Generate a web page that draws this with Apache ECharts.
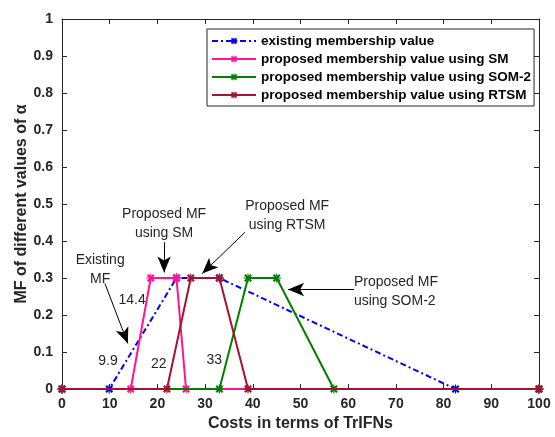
<!DOCTYPE html>
<html><head><meta charset="utf-8">
<script src="https://cdn.jsdelivr.net/npm/echarts@6/dist/echarts.min.js"></script>
<style>html,body{margin:0;padding:0;background:#fff}#c{width:555px;height:437px}</style>
</head><body><div id="c"></div>
<script>
const seriesNames = ['existing membership value','proposed membership value using SM','proposed membership value using SOM-2','proposed membership value using RTSM'];
const existingX = [0, 9.9, 24, 33, 82.5, 100];
const existingY = [0, 0, 0.3, 0.3, 0, 0];
const smX = [0, 14.4, 18.6, 24, 26, 100];
const smY = [0, 0, 0.3, 0.3, 0, 0];
const somX = [0, 33, 39, 45, 57, 100];
const somY = [0, 0, 0.3, 0.3, 0, 0];
const rtsmX = [0, 22, 27, 33, 39, 100];
const rtsmY = [0, 0, 0.3, 0.3, 0, 0];
// annotation texts and their anchor points in data coordinates
const annTexts = ['Existing\nMF','Proposed MF\nusing SM','Proposed MF\nusing RTSM','Proposed MF\nusing SOM-2','14.4','9.9','22','33'];
const annPos = [[8.0,0.323],[21.4,0.448],[47.2,0.469],[61.2,0.264],[14.7,0.24],[9.64,0.075],[20.3,0.067],[31.9,0.077]];
const arrows = [[[9.0,0.285],[13.8,0.123]],[[21.4,0.397],[21.4,0.315]],[[38.4,0.424],[29.4,0.312]],[[61.2,0.269],[47.4,0.269]]];

const colors = ['#0000FF','#FF1493','#007F00','#A2142F'];
const starPath = 'path://M0,4.4H10V5.6H0Z M4.4,0H5.6V10H4.4Z M2.35,0.65L9.35,7.65L7.65,9.35L0.65,2.35Z M9.35,2.35L2.35,9.35L0.65,7.65L7.65,0.65Z M5,2.6A2.4,2.4 0 1 1 4.99,2.6Z';
const pairs = (xs,ys)=>xs.map((x,i)=>[x,ys[i]]);
const dataSets = [pairs(existingX,existingY),pairs(smX,smY),pairs(somX,somY),pairs(rtsmX,rtsmY)];
const font = 'Liberation Sans, Arial, Helvetica, sans-serif';
const txt = '#262626';

const mkSeries = (i)=>({
  name: seriesNames[i], type:'line', data: dataSets[i], z: 2+i,
  symbol: starPath, symbolSize:9, showSymbol:true,
  lineStyle:{color:colors[i], width:2, type: i===0 ? [6,3,2,3] : 'solid'},
  itemStyle:{color:colors[i]}, animation:false
});

const chart = echarts.init(document.getElementById('c'));
const option = {
  animation:false,
  textStyle:{fontFamily:font},
  grid:{left:62,right:16,top:19,bottom:43,show:false},
  legend:{
    data: seriesNames, orient:'vertical', left:207, top:29,
    itemWidth:44, itemHeight:9, itemGap:4,
    padding:[5,3,4,4],
    borderColor:'#262626', borderWidth:1, backgroundColor:'#fff',
    textStyle:{fontFamily:font, fontWeight:'bold', fontSize:13.5, lineHeight:14, color:'#000'}
  },
  xAxis:[{
    type:'value', min:0, max:100, interval:10,
    name:'Costs in terms of TrIFNs', nameLocation:'middle', nameGap:27, nameMoveOverlap:false,
    nameTextStyle:{fontFamily:font, fontWeight:'bold', fontSize:16, color:txt},
    axisLine:{lineStyle:{color:txt,width:1}},
    axisTick:{inside:true, length:5, lineStyle:{color:txt}},
    axisLabel:{fontFamily:font, fontWeight:'bold', fontSize:14, color:txt, margin:8},
    splitLine:{show:false}
  },{
    type:'value', min:0, max:100, interval:10, position:'top',
    axisLine:{onZero:false, lineStyle:{color:txt,width:1}},
    axisTick:{inside:true, length:5, lineStyle:{color:txt}},
    axisLabel:{show:false}, splitLine:{show:false}
  }],
  yAxis:[{
    type:'value', min:0, max:1, interval:0.1,
    name:'MF of different values of α', nameLocation:'middle', nameGap:32, nameMoveOverlap:false,
    nameTextStyle:{fontFamily:font, fontWeight:'bold', fontSize:16, color:txt},
    axisLine:{show:true, lineStyle:{color:txt,width:1}},
    axisTick:{show:true, inside:true, length:5, lineStyle:{color:txt}},
    axisLabel:{fontFamily:font, fontWeight:'bold', fontSize:14, color:txt, margin:9,
      formatter:(v)=>String(Math.round(v*10)/10)},
    splitLine:{show:false}
  },{
    type:'value', min:0, max:1, interval:0.1, position:'right',
    axisLine:{show:true, onZero:false, lineStyle:{color:txt,width:1}},
    axisTick:{show:true, inside:true, length:5, lineStyle:{color:txt}},
    axisLabel:{show:false}, splitLine:{show:false}
  }],
  series:[
    mkSeries(0), mkSeries(1), mkSeries(2), mkSeries(3),
    {
      name:'annotations', type:'line', data:[], z:10, silent:true,
      markLine:{
        silent:true, animation:false, symbol:['none','arrow'], symbolSize:[10,16],
        lineStyle:{color:'#000', width:1, type:'solid'}, label:{show:false},
        data: arrows.map(a=>[{coord:a[0]},{coord:a[1]}])
      },
      markPoint:{
        silent:true, animation:false, symbol:'circle', symbolSize:0,
        data: annTexts.map((t,i)=>({
          coord: annPos[i], value: t,
          label:{show:true, position:'inside', formatter:t,
            align: i===3 ? 'left' : 'center',
            fontFamily:font, fontSize:14, lineHeight:19, color:'#262626'}
        }))
      }
    }
  ]
};
chart.setOption(option);
</script></body></html>
